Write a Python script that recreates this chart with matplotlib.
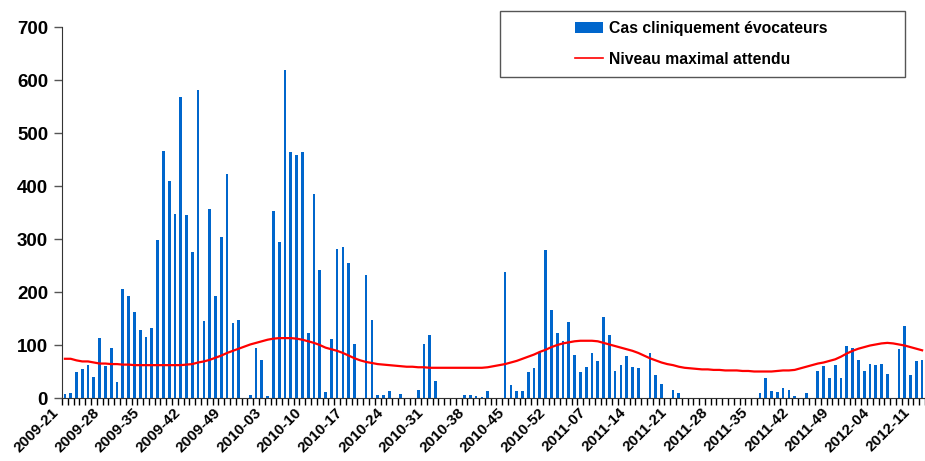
import numpy as np
import matplotlib
matplotlib.use('Agg')
import matplotlib.pyplot as plt
from matplotlib.patches import Rectangle
from matplotlib.transforms import ScaledTranslation

plt.rcParams['font.family'] = ['Liberation Sans', 'DejaVu Sans']

# weekly counts, one value per week starting at 2009-21
cas = [7, 9, 50, 55, 62, 40, 113, 60, 95, 31,
       205, 193, 162, 128, 116, 133, 298, 466, 409, 348,
       567, 346, 276, 581, 146, 356, 193, 303, 422, 141,
       147, 0, 5, 94, 72, 4, 353, 295, 618, 465,
       458, 464, 122, 384, 242, 11, 112, 281, 284, 254,
       102, 0, 232, 147, 6, 6, 13, 0, 8, 0,
       0, 16, 101, 118, 33, 0, 0, 0, 0, 6,
       6, 4, 2, 13, 0, 0, 237, 24, 14, 14,
       50, 56, 86, 279, 166, 123, 108, 143, 82, 50,
       58, 84, 70, 152, 118, 51, 63, 79, 58, 56,
       0, 85, 43, 26, 0, 16, 10, 0, 0, 0,
       0, 0, 0, 0, 0, 0, 0, 0, 0, 0,
       9, 38, 14, 12, 19, 16, 4, 0, 9, 0,
       51, 60, 38, 62, 38, 99, 95, 72, 51, 65,
       62, 65, 46, 0, 92, 135, 43, 70, 72]

# expected maximum level
seuil = [74, 74, 71, 69, 69, 67, 65, 65, 64, 64,
         63, 63, 62, 62, 62, 62, 62, 62, 62, 62,
         62, 63, 64, 67, 69, 72, 76, 80, 85, 89,
         93, 97, 101, 104, 107, 110, 112, 113, 113, 113,
         112, 110, 107, 104, 100, 95, 92, 89, 85, 80,
         75, 71, 68, 66, 64, 63, 62, 61, 60, 59,
         59, 58, 58, 57, 57, 57, 57, 57, 57, 57,
         57, 57, 57, 58, 60, 62, 64, 67, 70, 74,
         78, 82, 87, 91, 96, 100, 103, 105, 107, 108,
         108, 108, 107, 104, 101, 98, 95, 92, 89, 85,
         80, 75, 71, 67, 64, 62, 59, 57, 56, 55,
         54, 54, 53, 53, 52, 52, 52, 51, 51, 50,
         50, 50, 50, 51, 52, 52, 53, 56, 59, 62,
         65, 67, 70, 73, 78, 84, 89, 93, 96, 99,
         101, 103, 104, 103, 101, 99, 96, 93, 90]

tick_labels = ['2009-21', '2009-28', '2009-35', '2009-42', '2009-49',
               '2010-03', '2010-10', '2010-17', '2010-24', '2010-31',
               '2010-38', '2010-45', '2010-52', '2011-07', '2011-14',
               '2011-21', '2011-28', '2011-35', '2011-42', '2011-49',
               '2012-04', '2012-11']
tick_step = 7

x = np.arange(len(cas))

fig = plt.figure(figsize=(9.25, 4.61), dpi=100)
ax = fig.add_axes([62 / 925, 63 / 461, 863 / 925, 371 / 461])

bars = ax.bar(x, cas, width=0.47, color='#0066cc', zorder=2)
line, = ax.plot(x, seuil, color='#ff0000', lw=1.6, zorder=3)

ax.set_xlim(-0.5, 148.0)
ax.set_ylim(0, 700)

# y axis
ax.set_yticks(range(0, 701, 100))
ax.tick_params(axis='y', length=6, width=1, color='#555555', pad=4,
               labelsize=13.5)
for lab in ax.get_yticklabels():
    lab.set_fontweight('bold')

# x axis: week ticks between categories, labels every 7 weeks
ax.set_xticks(x[::tick_step][:len(tick_labels)])
ax.set_xticklabels(tick_labels, rotation=45, ha='right', va='center',
                   rotation_mode='anchor', fontsize=11, fontweight='bold')
ax.set_xticks(np.arange(-0.5, len(cas), 1), minor=True)
ax.tick_params(axis='x', which='major', length=0, pad=9)
ax.tick_params(axis='x', which='minor', length=5, width=1, color='black')
shift = ScaledTranslation(-6 / 72, 0, fig.dpi_scale_trans)
for lab in ax.get_xticklabels():
    lab.set_transform(lab.get_transform() + shift)

for side in ['top', 'right']:
    ax.spines[side].set_visible(False)
ax.spines['left'].set_color('#333333')
ax.spines['bottom'].set_color('#333333')

# legend box
fig.patches.append(Rectangle((500 / 925, 1 - 77 / 461), 405 / 925, 66 / 461,
                             transform=fig.transFigure, fill=False,
                             edgecolor='#555555', lw=1))
leg = fig.legend([bars, line],
                 ['Cas cliniquement évocateurs', 'Niveau maximal attendu'],
                 loc='center', bbox_to_anchor=(701 / 925, 1 - 44 / 461),
                 bbox_transform=fig.transFigure, frameon=False,
                 prop={'weight': 'bold', 'size': 11.3}, handlelength=1.8,
                 handletextpad=0.35, labelspacing=1.0)
leg.get_lines()[0].set_linewidth(1.2)

fig.savefig('out.png', dpi=100)
